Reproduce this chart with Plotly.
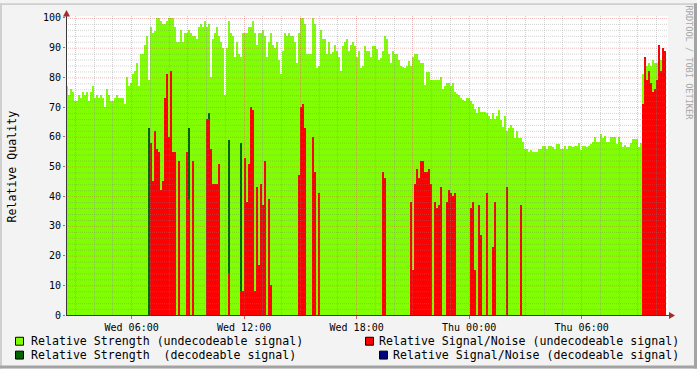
import math
import pandas as pd
import plotly.graph_objects as go

# ---------------- data (one value per 6.4-minute step) ----------------
strength_undecodeable = [
    77, 74, 76, 75, 72, 72, 74, 73, 75, 74,
    75, 72, 75, 77, 73, 74, 73, 74, 73, 70,
    76, 74, 72, 72, 73, 74, 73, 73, 73, 71,
    80, 77, 78, 81, 82, 85, 77, 88, 88, 91,
    94, 79, 97, 95, 95.5, 100, 100, 99, 98, 98,
    99, 100, 100, 100, 97, 92, 92, 96, 92, 95,
    95, 96, 95, 94, 94, 93, 97, 98, 97, 99,
    97, 98, 80, 93, 95, 97, 94, 92, 90, 74,
    90, 99, 95, 94, 87, 92, 88, 87, 95, 95,
    95, 97, 97, 99, 95, 91, 95, 95, 96, 94,
    87, 92, 95, 91, 90, 92, 86, 81, 89, 95,
    94, 95, 94, 94, 92, 85, 95, 100, 100, 98,
    88, 88, 88, 100, 98, 83, 84, 96, 93, 93,
    88, 92, 88, 88.5, 91, 89, 87, 82, 90.5, 92,
    93, 89, 91, 92, 90.5, 87, 89, 83, 84, 90.5,
    89, 89, 87, 90.5, 90.5, 89.5, 86, 86.5, 89, 94,
    93, 88, 85, 89, 88, 88, 86, 84, 83.5, 83,
    84, 85.5, 84, 87, 87.8, 88, 86, 85, 85, 77.5,
    81.7, 81.7, 79, 79, 79, 79, 79, 80, 76, 77,
    78, 78, 77, 78, 75, 74.5, 74, 73, 72.5, 72,
    73, 73, 72, 71, 69.5, 68, 70, 68.5, 68.5, 68.5,
    68, 67, 66, 68, 66, 67, 69, 65.5, 63.3, 67,
    62, 63, 64, 63, 59.5, 62, 59.5, 59.5, 58.3, 56,
    56, 55, 55.5, 55, 55, 55, 56, 56, 57, 57,
    56, 57, 57, 56.5, 56, 57.5, 57.5, 56, 56, 57,
    56, 57, 57, 56.5, 57, 57, 58, 55.5, 57, 57,
    56.5, 57, 57.5, 58.3, 60, 58.3, 58.3, 61, 59.5, 60.3,
    58.3, 58.3, 60, 60, 60, 57.5, 60, 58.3, 56.5, 57.3,
    56.5, 56.5, 57.8, 59.3, 59.3, 59.3, 56.7, 57.8, 81, 85,
    84, 85, 84, 86, 85, 85, 85, 86, 86, 86,
]

strength_decodeable = [
    0, 0, 0, 0, 0, 0, 0, 0, 0, 0,
    0, 0, 0, 0, 0, 0, 0, 0, 0, 0,
    0, 0, 0, 0, 0, 0, 0, 0, 0, 0,
    0, 0, 0, 0, 0, 0, 0, 0, 0, 0,
    0, 63, 0, 0, 0, 0, 0, 0, 0, 0,
    0, 0, 0, 0, 0, 0, 0, 0, 0, 0,
    0, 63, 0, 0, 0, 0, 0, 0, 0, 0,
    0, 68, 0, 0, 0, 0, 0, 0, 0, 0,
    0, 59, 0, 0, 0, 0, 0, 58, 0, 0,
    0, 0, 0, 0, 0, 0, 0, 0, 0, 0,
    0, 0, 0, 0, 0, 0, 0, 0, 0, 0,
    0, 0, 0, 0, 0, 0, 0, 0, 0, 0,
    0, 0, 0, 0, 0, 0, 0, 0, 0, 0,
    0, 0, 0, 0, 0, 0, 0, 0, 0, 0,
    0, 0, 0, 0, 0, 0, 0, 0, 0, 0,
    0, 0, 0, 0, 0, 0, 0, 0, 0, 0,
    0, 0, 0, 0, 0, 0, 0, 0, 0, 0,
    0, 0, 0, 0, 0, 0, 0, 0, 0, 0,
    0, 0, 0, 0, 0, 0, 0, 0, 0, 0,
    0, 0, 0, 0, 0, 0, 0, 0, 0, 0,
    0, 0, 0, 0, 0, 0, 0, 0, 0, 0,
    0, 0, 0, 0, 0, 0, 0, 0, 0, 0,
    0, 0, 0, 0, 0, 0, 0, 0, 0, 0,
    0, 0, 0, 0, 0, 0, 0, 0, 0, 0,
    0, 0, 0, 0, 0, 0, 0, 0, 0, 0,
    0, 0, 0, 0, 0, 0, 0, 0, 0, 0,
    0, 0, 0, 0, 0, 0, 0, 0, 0, 0,
    0, 0, 0, 0, 0, 0, 0, 0, 0, 0,
    0, 0, 0, 0, 0, 0, 0, 0, 0, 0,
    0, 0, 0, 0, 0, 0, 0, 0, 0, 0,
]

snr_undecodeable = [
    0, 0, 0, 0, 0, 0, 0, 0, 0, 0,
    0, 0, 0, 0, 0, 0, 0, 0, 0, 0,
    0, 0, 0, 0, 0, 0, 0, 0, 0, 0,
    0, 0, 0, 0, 0, 0, 0, 0, 0, 0,
    0, 0, 58, 45, 62, 56, 55, 42, 45, 73,
    81, 60, 82, 55, 55, 0, 52, 0, 0, 0,
    55, 39, 0, 52, 0, 0, 0, 0, 0, 0,
    66, 66, 56, 44, 44, 44, 51, 0, 0, 0,
    0, 14, 0, 0, 0, 0, 0, 8, 8, 53,
    38, 51, 70, 69, 8, 43, 17, 44, 37, 52,
    0, 39, 10, 0, 0, 0, 0, 0, 0, 0,
    0, 0, 0, 0, 0, 0, 47, 70, 71, 63,
    0, 0, 0, 60, 48, 0, 41, 0, 0, 0,
    0, 0, 0, 0, 0, 0, 0, 0, 0, 0,
    0, 0, 0, 0, 0, 0, 0, 0, 0, 0,
    0, 0, 0, 0, 0, 0, 0, 0, 48, 46,
    0, 0, 0, 0, 0, 0, 0, 0, 0, 0,
    0, 0, 38, 15, 44, 49, 46, 52, 52, 48,
    48, 49, 44, 0, 38, 36, 37, 43, 0, 0,
    38, 42, 41, 40, 41, 0, 0, 0, 0, 0,
    0, 0, 36, 38, 15, 0, 37, 27, 0, 0,
    41, 0, 0, 23, 38, 0, 0, 0, 0, 0,
    43, 0, 0, 0, 0, 0, 0, 37, 0, 0,
    0, 0, 0, 0, 0, 0, 0, 0, 0, 0,
    0, 0, 0, 0, 0, 0, 0, 0, 0, 0,
    0, 0, 0, 0, 0, 0, 0, 0, 0, 0,
    0, 0, 0, 0, 0, 0, 0, 0, 0, 0,
    0, 0, 0, 0, 0, 0, 0, 0, 0, 0,
    0, 0, 0, 0, 0, 0, 0, 0, 71, 87,
    79, 82, 78, 75, 76, 79, 91, 82, 90, 89,
]

series_names = [
    "Relative Strength (undecodeable signal)",
    "Relative Strength  (decodeable signal)",
    "Relative Signal/Noise (undecodeable signal)",
    "Relative Signal/Noise (decodeable signal)",
]
series_colors = ["#80FF00", "#006400", "#FF0000", "#000080"]

x_tick_values = ["2024-01-03 06:00", "2024-01-03 12:00", "2024-01-03 18:00",
                 "2024-01-04 00:00", "2024-01-04 06:00"]
x_tick_labels = ["Wed 06:00", "Wed 12:00", "Wed 18:00", "Thu 00:00", "Thu 06:00"]
y_tick_values = [0, 10, 20, 30, 40, 50, 60, 70, 80, 90, 100]

y_title = "Relative Quality"
watermark = "RRDTOOL / TOBI OETIKER"

# ---------------- geometry ----------------
W, H = 697, 369
PL, PR, PT, PB = 66, 668, 13, 315          # plot box in pixels
START = pd.Timestamp("2024-01-03 02:30:00")
STEP = pd.Timedelta(seconds=384)
SEC_PER_PX = 192.0
X_END = START + pd.Timedelta(seconds=SEC_PER_PX * (PR - PL))
Y_MAX = (PB - PT) / 3.0

times = [START + STEP * (i + 0.5) for i in range(len(strength_undecodeable))]
STEP_MS = STEP.total_seconds() * 1000


def xp(px):
    return (px - PL) / (PR - PL)


def yp(py):
    return (PB - py) / (PB - PT)


def time_px(t):
    return PL + (t - START).total_seconds() / SEC_PER_PX


MONO = "DejaVu Sans Mono"
MINOR_GRID = "rgba(128,128,128,0.34)"
MAJOR_GRID = "rgba(222,80,80,0.38)"
AXIS_COLOR = "#3A3A3A"
ARROW_COLOR = "#A52A2A"

fig = go.Figure()
fig.add_trace(go.Bar(x=times, y=strength_undecodeable, width=STEP_MS,
                     marker=dict(color=series_colors[0], line=dict(width=0)),
                     name=series_names[0], hoverinfo="skip", opacity=1))
fig.add_trace(go.Bar(x=times, y=strength_decodeable, width=STEP_MS / 2,
                     marker=dict(color=series_colors[1], line=dict(width=0)),
                     name=series_names[1], hoverinfo="skip", opacity=1))
fig.add_trace(go.Bar(x=times, y=snr_undecodeable, width=STEP_MS,
                     marker=dict(color=series_colors[2], line=dict(width=0)),
                     name=series_names[2], hoverinfo="skip", opacity=1))

shapes = []

# grid: vertical lines every hour, major every 3 hours
t = START.ceil("h")
while t < X_END:
    px = math.floor(time_px(t)) + 0.5
    if px < PR:
        major = (t.hour % 3 == 0)
        shapes.append(dict(type="line", xref="paper", yref="paper",
                           x0=xp(px), x1=xp(px), y0=0, y1=1, layer="above",
                           line=dict(color=MAJOR_GRID if major else MINOR_GRID,
                                     width=1, dash="1px,1px")))
    t = t + pd.Timedelta(hours=1)

# grid: horizontal lines every 2, major every 10
for v in range(2, 101, 2):
    py = PB - 3 * v + 0.5
    major = (v % 10 == 0)
    shapes.append(dict(type="line", xref="paper", yref="paper",
                       x0=0, x1=xp(PR - 1), y0=yp(py), y1=yp(py), layer="above",
                       line=dict(color=MAJOR_GRID if major else MINOR_GRID,
                                 width=1, dash="1px,1px")))

# axes lines
shapes.append(dict(type="line", xref="paper", yref="paper", layer="above",
                   x0=xp(PL), x1=xp(PR + 2), y0=yp(PB + 0.5), y1=yp(PB + 0.5),
                   line=dict(color=AXIS_COLOR, width=1)))
shapes.append(dict(type="line", xref="paper", yref="paper", layer="above",
                   x0=xp(PL + 0.5), x1=xp(PL + 0.5), y0=yp(PB + 1), y1=yp(PT - 1),
                   line=dict(color=AXIS_COLOR, width=1)))


def path(points):
    return "M " + " L ".join(f"{xp(a):.6f},{yp(b):.6f}" for a, b in points) + " Z"


shapes.append(dict(type="path", xref="paper", yref="paper", layer="above",
                   path=path([(PL + 0.5, 7), (PL - 3, 13.5), (PL + 4, 13.5)]),
                   fillcolor=ARROW_COLOR, line=dict(width=0)))
shapes.append(dict(type="path", xref="paper", yref="paper", layer="above",
                   path=path([(PR + 7, PB + 0.5), (PR + 1, PB - 3), (PR + 1, PB + 4)]),
                   fillcolor=ARROW_COLOR, line=dict(width=0)))

# legend squares
legend_boxes = [(15, 337), (15, 351), (365, 337), (379, 351)]
for (bx, by), col in zip(legend_boxes, series_colors):
    shapes.append(dict(type="rect", xref="paper", yref="paper",
                       x0=xp(bx + 0.5), x1=xp(bx + 8.5), y0=yp(by + 0.5), y1=yp(by + 8.5),
                       fillcolor=col, line=dict(color="#000000", width=1)))

# canvas shading border
shapes.append(dict(type="rect", xref="paper", yref="paper", x0=xp(0), x1=xp(W),
                   y0=yp(0), y1=yp(2), fillcolor="#CFCFCF", line=dict(width=0)))
shapes.append(dict(type="rect", xref="paper", yref="paper", x0=xp(0), x1=xp(2),
                   y0=yp(0), y1=yp(H), fillcolor="#CFCFCF", line=dict(width=0)))
shapes.append(dict(type="rect", xref="paper", yref="paper", x0=xp(W - 3), x1=xp(W),
                   y0=yp(0), y1=yp(H), fillcolor="#A3A3A3", line=dict(width=0)))
shapes.append(dict(type="rect", xref="paper", yref="paper", x0=xp(0), x1=xp(W),
                   y0=yp(H - 3), y1=yp(H), fillcolor="#A3A3A3", line=dict(width=0)))

annotations = []
legend_text_pos = [(30, 341, "left"), (30, 355, "left"),
                   (680, 341, "right"), (680, 355, "right")]
for (tx, ty, anchor), name in zip(legend_text_pos, series_names):
    annotations.append(dict(xref="paper", yref="paper", x=xp(tx), y=yp(ty),
                            xanchor=anchor, yanchor="middle", showarrow=False,
                            text=name.replace(" ", "&nbsp;"), borderpad=0,
                            font=dict(family=MONO, size=11.6, color="#000000")))
annotations.append(dict(xref="paper", yref="paper", x=xp(12), y=yp(165),
                        xanchor="center", yanchor="middle", showarrow=False,
                        text=y_title, textangle=-90, borderpad=0,
                        font=dict(family=MONO, size=11.6, color="#000000")))
annotations.append(dict(xref="paper", yref="paper", x=xp(689), y=yp(60),
                        xanchor="center", yanchor="middle", showarrow=False,
                        text=watermark.replace(" ", "&nbsp;"), textangle=90, borderpad=0,
                        font=dict(family=MONO, size=8.6, color="#A8A8A8")))

fig.update_layout(
    width=W, height=H, autosize=False,
    margin=dict(l=PL, r=W - PR, t=PT, b=H - PB, pad=0),
    paper_bgcolor="#F3F3F3", plot_bgcolor="#FFFFFF",
    barmode="overlay", bargap=0, showlegend=False,
    shapes=shapes, annotations=annotations,
    xaxis=dict(type="date", range=[START, X_END], tickvals=x_tick_values,
               ticktext=x_tick_labels, showgrid=False, zeroline=False,
               showline=False, ticks="outside", ticklen=3, tickwidth=1,
               tickcolor="#D06060",
               tickfont=dict(family=MONO, size=10, color="#000000"),
               fixedrange=True),
    yaxis=dict(range=[0, Y_MAX], tickvals=y_tick_values, showgrid=False,
               zeroline=False, showline=False, ticks="outside", ticklen=2,
               tickwidth=1, tickcolor="#D06060",
               tickfont=dict(family=MONO, size=10, color="#000000"),
               fixedrange=True),
)

fig.write_html(
    "out.html",
    config={"displayModeBar": False},
    post_script="document.body.style.margin='0';document.body.style.overflow='hidden';",
)
